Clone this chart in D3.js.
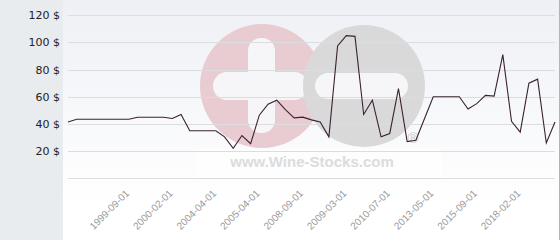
<!DOCTYPE html>
<html><head><meta charset="utf-8">
<script src="https://cdn.jsdelivr.net/npm/d3@7"></script>
<style>html,body{margin:0;padding:0;background:#fff;overflow:hidden}</style>
</head><body>
<svg id="c" width="560" height="240"></svg>
<script>
// Price series (one value per category, equally spaced)
const prices = [
  41.5, 43.5, 43.5, 43.5, 43.5, 43.5, 43.5, 43.5,
  45, 45, 45, 45, 44, 47,
  35, 35, 35, 35, 30.5, 22, 31.5, 25.5,
  46.5, 54.5, 57.5, 50.5, 44.5, 45, 43, 41.5, 30.5,
  97.5, 105, 104.5, 47, 57.5, 30.5, 33, 66, 27, 28, 44,
  60, 60, 60, 60, 51, 55, 61, 60.5, 91, 42, 34, 70, 73, 26, 41.5
];
const tickLabels = ["1999-09-01","2000-02-01","2004-04-01","2005-04-01","2008-09-01",
                    "2009-03-01","2010-07-01","2013-05-01","2015-09-01","2018-02-01"];
const tickIndex = [7, 12, 17, 22, 27, 32, 37, 42, 47, 52];
const yTicks = [0, 20, 40, 60, 80, 100, 120];

const svg = d3.select("#c");
const W = 560, H = 240;

const x = d3.scalePoint().domain(d3.range(prices.length)).range([68, 555]);
const y = d3.scaleLinear().domain([0, 120]).range([178.3, 15.3]);

// backgrounds
const defs = svg.append("defs");
const g1 = defs.append("linearGradient").attr("id","bg").attr("x1",0).attr("y1",0).attr("x2",0).attr("y2",1);
g1.append("stop").attr("offset","0%").attr("stop-color","#eef0f5");
g1.append("stop").attr("offset","85%").attr("stop-color","#ffffff");
g1.append("stop").attr("offset","100%").attr("stop-color","#ffffff");

svg.append("rect").attr("x",0).attr("y",0).attr("width",W).attr("height",H).attr("fill","#fff");
svg.append("rect").attr("x",63).attr("y",0).attr("width",496).attr("height",H).attr("fill","url(#bg)");
svg.append("rect").attr("x",0).attr("y",0).attr("width",63).attr("height",H).attr("fill","#e8ecef");
svg.append("line").attr("x1",559.5).attr("x2",559.5).attr("y1",0).attr("y2",H).attr("stroke","#b4b4b4");

// watermark
const wm = svg.append("g");
wm.append("circle").attr("cx",262).attr("cy",86).attr("r",62).attr("fill","#e9cbd2");
wm.append("rect").attr("x",248).attr("y",38).attr("width",27).attr("height",95).attr("rx",13).attr("fill","#f6f6f9");
wm.append("rect").attr("x",213).attr("y",72).attr("width",95).attr("height",28).attr("rx",14).attr("fill","#f6f6f9");
wm.append("circle").attr("cx",364).attr("cy",86).attr("r",61).attr("fill","#d9d9da");
wm.append("rect").attr("x",315).attr("y",73).attr("width",93).attr("height",26).attr("rx",13).attr("fill","#f6f6f9");
wm.append("rect").attr("x",196).attr("y",149).attr("width",246).attr("height",28).attr("fill","#ffffff").attr("opacity",0.55);
wm.append("text").attr("x",312).attr("y",167).attr("text-anchor","middle")
  .attr("font-family","Liberation Sans, Arial, sans-serif").attr("font-weight","bold")
  .attr("font-size",15).attr("fill","#dcdcdc").text("www.Wine-Stocks.com");
wm.append("text").attr("x",413).attr("y",143).attr("text-anchor","middle")
  .attr("font-family","Liberation Sans, Arial, sans-serif")
  .attr("font-size",15).attr("fill","#c8c8c8").text("®");

// grid lines
svg.append("g").selectAll("line").data(yTicks).join("line")
  .attr("x1",68).attr("x2",555)
  .attr("y1",d=>Math.round(y(d))+0.5).attr("y2",d=>Math.round(y(d))+0.5)
  .attr("stroke","#dcdde0").attr("stroke-width",1);

// y axis labels
const yAxis = d3.axisLeft(y).tickValues(yTicks.filter(d=>d>0)).tickSize(0).tickPadding(0)
  .tickFormat(d => d + " $");
const ya = svg.append("g").attr("transform","translate(60,0)").call(yAxis);
ya.select(".domain").remove();
ya.selectAll("text").attr("font-family","DejaVu Sans, sans-serif").attr("font-size",11).attr("fill","#222");

// x axis labels
const xAxis = d3.axisBottom(x).tickValues(tickIndex).tickSize(0).tickPadding(0)
  .tickFormat((d,i) => tickLabels[tickIndex.indexOf(d)]);
const xa = svg.append("g").attr("transform","translate(0,0)").call(xAxis);
xa.select(".domain").remove();
xa.selectAll(".tick").attr("transform", d => `translate(${x(d)+1},194)`);
xa.selectAll("text").attr("y",0).attr("dy",0).attr("x",0)
  .attr("text-anchor","end").attr("transform","rotate(-45)")
  .attr("font-family","Liberation Sans, Arial, sans-serif").attr("font-size",10).attr("fill","#9a9a9a");

// line
const line = d3.line().x((d,i)=>x(i)).y(d=>y(d));
svg.append("path").datum(prices).attr("d",line)
  .attr("fill","none").attr("stroke","#3a2231").attr("stroke-width",1.1).attr("stroke-linejoin","miter");
</script>
</body></html>
